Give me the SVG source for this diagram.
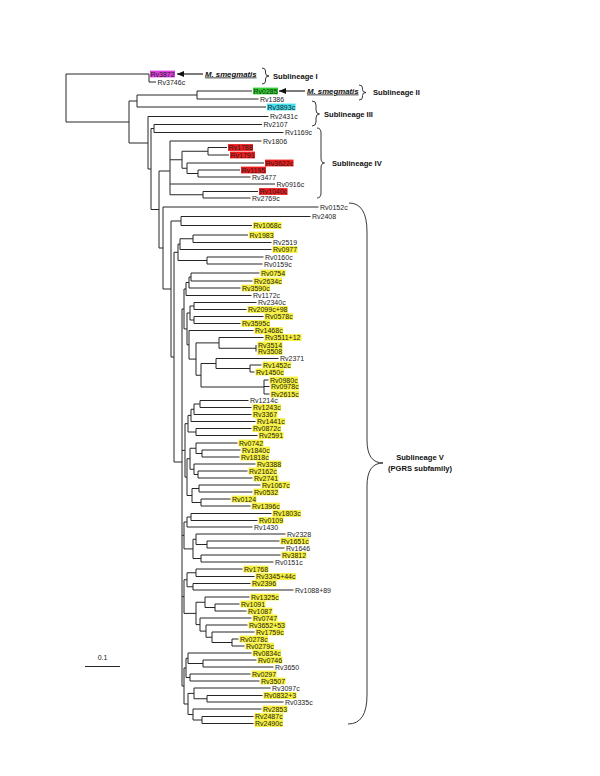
<svg xmlns="http://www.w3.org/2000/svg" width="600" height="776" viewBox="0 0 600 776">
<defs>
<style>
.l{font-family:"Liberation Sans",Arial,sans-serif;font-size:7px;fill:#222}
.s{font-family:"Liberation Sans",Arial,sans-serif;font-size:7.6px;font-weight:bold;fill:#111}
.ms{font-family:"Liberation Sans",Arial,sans-serif;font-size:7.8px;font-weight:bold;font-style:italic;fill:#111;text-decoration:underline}
.br{fill:none;stroke:#262626;stroke-width:1}
.bc{fill:none;stroke:#222;stroke-width:0.9}
.ar{fill:none;stroke:#111;stroke-width:1.1}
.hy{fill:#f6f03c}.hr{fill:#ee1c1c}.hm{fill:#dd3fdd}.hg{fill:#2ed02e}.hc{fill:#3fe0f0}
</style>
<marker id="ah" markerUnits="userSpaceOnUse" markerWidth="8" markerHeight="6" refX="7" refY="3" orient="auto"><path d="M0,0L7,3L0,6z" fill="#111"/></marker>
</defs>
<rect width="600" height="776" fill="#fff"/>
<g id="connectors">
<path class="br" d="M66,74V122M66,74H149M66,122H129M149,74V82M149,82H156
M129,101V143M129,101H137M129,143H148M137,95V107M137,95H197M137,107H266M197,91V99M197,91H252M197,99H258.5
M148,116.5V169M148,116.5H268.5M148,169H151M151,128.5V209.5M151,128.5H154M151,209.5H159M154,124.5V132.5M154,124.5H262M154,132.5H283.5
M159,171V248M159,171H170M159,248H163
M170,141V194.75M170,141H261.5M170,159.75H182M170,184H275M170,194.75H203
M182,151.25V168.25M182,151.25H208M182,168.25H187M208,147.5V155M208,147.5H227M208,155H229
M187,163V173.5M187,163H264M187,173.5H198M198,170V177M198,170H240M198,177H250.5
M203,191.5V198M203,191.5H258M203,198H250.5
M163,207V289M163,207H318.5M163,289H171M171,221V357M171,221H181M171,357H174
M181,216.5V225.5M181,216.5H310.5M181,225.5H252
M174,252.3V462M174,252.3H178M174,462H182
M178,244.1V260.5M178,244.1H180M178,260.5H207M180,238.75V249.5M180,238.75H193M180,249.5H271.5
M193,235V242.5M193,235H248M193,242.5H271.5M207,257V264M207,257H263.5M207,264H262.5
M182,309V686M182,309H184M182,450.4H185M182,535.4H184M182,596.6H184M182,686H184
M191,273V281M191,273H259.5M191,281H252.5M189,277V288M189,277H191M189,288H240.5M186,282.5V295.5M186,282.5H189M186,295.5H251.5
M194,302.5V309.5M194,302.5H256.5M194,309.5H246.5M194,316.5V323.5M194,316.5H263.5M194,323.5H240.5M190,306V320M190,306H194M190,320H194
M256,345V351.5M219,337.5V348.25M219,337.5H263.5M219,348.25H256
M250,365V372M250,365H261.5M250,372H254.5M216,358.5V368.5M216,358.5H278.5M216,368.5H250
M264,380V394M264,380H268.5M264,386.5H269.5M264,394H269.5
M201,363.5V387M201,363.5H216M201,387H264M196,342.9V375.25M196,342.9H219M196,375.25H201
M189,330.5V359.1M189,330.5H253.5M189,359.1H196M187,313V344.8M187,313H190M187,344.8H189M184,289V328.9M184,289H186M184,328.9H187
M200,400.5V407.5M200,400.5H248.5M200,407.5H251.5M194,404V414.5M194,404H200M194,414.5H251.5M191,409.25V421.5M191,409.25H194M191,421.5H255.5
M196,428.5V435.5M196,428.5H251.5M196,435.5H257.5M188,415.4V432M188,415.4H191M188,432H196
M202,450V457M202,450H240.5M202,457H239.5M196,443V453.5M196,443H237.5M196,453.5H202
M198,471V478M198,471H247.5M198,478H252.5M194,464V474.5M194,464H255.5M194,474.5H198M190,448.25V469.25M190,448.25H196M190,469.25H194
M199,485V492M199,485H260.5M199,492H252.5M201,499V506M201,499H230.5M201,506H250.5M192,488.5V502.5M192,488.5H199M192,502.5H201
M187,458.75V495.5M187,458.75H190M187,495.5H192M185,423.7V477.1M185,423.7H188M185,477.1H187
M191,513.5V520.5M191,513.5H271.5M191,520.5H257.5M187,517V527M187,517H191M187,527H252.5
M207,541V548M207,541H279.5M207,548H284.5M196,534V544.5M196,534H285.5M196,544.5H207
M201,555V562M201,555H280.5M201,562H273.5M193,539.25V558.5M193,539.25H196M193,558.5H201M184,522V548.9M184,522H187M184,548.9H193
M196,569V576.5M196,569H242.5M196,576.5H254.5M193,583.5V590M193,583.5H250.5M193,590H293.5M187,572.75V586.75M187,572.75H196M187,586.75H193
M215,604V611M215,604H239.5M215,611H246.5M205,597V607.5M205,597H249.5M205,607.5H215
M232,639V646M232,639H238.5M232,646H244.5M212,632V642.5M212,632H254.5M212,642.5H232
M206,625V637.25M206,625H247.5M206,637.25H212M200,618V631.1M200,618H251.5M200,631.1H206
M196,602.25V624.6M196,602.25H205M196,624.6H200M184,579.75V613.4M184,579.75H187M184,613.4H196
M203,660V667M203,660H256.5M203,667H273.5M188,653V663.5M188,653H251.5M188,663.5H203
M190,674V681M190,674H250.5M190,681H259.5M186,658.25V677.5M186,658.25H188M186,677.5H190
M207,695.5V702M207,695.5H262.5M207,702H283.5M194,688V698.75M194,688H270.5M194,698.75H207
M202,716.5V723.5M202,716.5H253.5M202,723.5H253.5M193,709V720M193,709H261.5M193,720H202
M188,693.4V714.5M188,693.4H194M188,714.5H193M184,667.9V704M184,667.9H186M184,704H188"/>
<path class="ar" d="M203,74H177" marker-end="url(#ah)"/>
<path class="ar" d="M305,91H279" marker-end="url(#ah)"/>
</g>
<g id="scale"><path class="br" d="M85,666.5H120"/><text class="l" x="102.5" y="659.5" text-anchor="middle">0.1</text></g>
<g id="braces">
<path class="bc" d="M262,68Q265.5,68 265.5,71V73Q265.5,76 269,76Q265.5,76 265.5,79V81Q265.5,84 262,84"/>
<path class="bc" d="M359,85Q362.5,85 362.5,88V89.5Q362.5,92.5 366,92.5Q362.5,92.5 362.5,95.5V97Q362.5,100 359,100"/>
<path class="bc" d="M312,101Q316,101 316,105V110Q316,114 319.5,114Q316,114 316,118V122Q316,126 312,126"/>
<path class="bc" d="M317,128Q321,128 321,133V158Q321,163 324.5,163Q321,163 321,168V193Q321,198 317,198"/>
<path class="bc" d="M349,203Q367,203 367,232V440Q367,463 383,463Q367,463 367,486V695Q367,724 348,724"/>
</g>
<g id="labels">
<text class="ms" x="205" y="76.5">M. smegmatis</text>
<text class="ms" x="307" y="93.5">M. smegmatis</text>
<text class="s" x="273" y="78.7">Sublineage I</text>
<text class="s" x="373" y="94.7">Sublineage II</text>
<text class="s" x="324" y="116.7">Sublineage III</text>
<text class="s" x="332" y="165.7">Sublineage IV</text>
<text class="s" x="420" y="460" text-anchor="middle">Sublineage V</text>
<text class="s" x="420" y="471" text-anchor="middle">(PGRS subfamily)</text>
</g>
<g id="leaves">
<g id="Rv3872"><rect class="hm" x="150" y="70.6" width="25" height="6.8"/><text class="l" x="150.5" y="76.5">Rv3872</text></g>
<g id="Rv3746c"><text class="l" x="157.5" y="84.5">Rv3746c</text></g>
<g id="Rv0285"><rect class="hg" x="253" y="87.6" width="25" height="6.8"/><text class="l" x="253.5" y="93.5">Rv0285</text></g>
<g id="Rv1386"><text class="l" x="260" y="101.5">Rv1386</text></g>
<g id="Rv3893c"><rect class="hc" x="267" y="103.6" width="28.5" height="6.8"/><text class="l" x="267.5" y="109.5">Rv3893c</text></g>
<g id="Rv2431c"><text class="l" x="270" y="119">Rv2431c</text></g>
<g id="Rv2107"><text class="l" x="263.5" y="127">Rv2107</text></g>
<g id="Rv1169c"><text class="l" x="285" y="135">Rv1169c</text></g>
<g id="Rv1806"><text class="l" x="263" y="143.5">Rv1806</text></g>
<g id="Rv1788"><rect class="hr" x="228" y="144.1" width="25" height="6.8"/><text class="l" x="228.5" y="150">Rv1788</text></g>
<g id="Rv1791"><rect class="hr" x="230" y="151.6" width="25" height="6.8"/><text class="l" x="230.5" y="157.5">Rv1791</text></g>
<g id="Rv3622c"><rect class="hr" x="265" y="159.6" width="28.5" height="6.8"/><text class="l" x="265.5" y="165.5">Rv3622c</text></g>
<g id="Rv1195"><rect class="hr" x="241" y="166.6" width="25" height="6.8"/><text class="l" x="241.5" y="172.5">Rv1195</text></g>
<g id="Rv3477"><text class="l" x="252" y="179.5">Rv3477</text></g>
<g id="Rv0916c"><text class="l" x="276.5" y="186.5">Rv0916c</text></g>
<g id="Rv1040c"><rect class="hr" x="259" y="188.1" width="28.5" height="6.8"/><text class="l" x="259.5" y="194">Rv1040c</text></g>
<g id="Rv2769c"><text class="l" x="252" y="200.5">Rv2769c</text></g>
<g id="Rv0152c"><text class="l" x="320" y="209.5">Rv0152c</text></g>
<g id="Rv2408"><text class="l" x="312" y="219">Rv2408</text></g>
<g id="Rv1068c"><rect class="hy" x="253" y="222.1" width="28.5" height="6.8"/><text class="l" x="253.5" y="228">Rv1068c</text></g>
<g id="Rv1983"><rect class="hy" x="249" y="231.6" width="25" height="6.8"/><text class="l" x="249.5" y="237.5">Rv1983</text></g>
<g id="Rv2519"><text class="l" x="273" y="245">Rv2519</text></g>
<g id="Rv0977"><rect class="hy" x="272.5" y="246.1" width="25" height="6.8"/><text class="l" x="273" y="252">Rv0977</text></g>
<g id="Rv0160c"><text class="l" x="265" y="259.5">Rv0160c</text></g>
<g id="Rv0159c"><text class="l" x="264" y="266.5">Rv0159c</text></g>
<g id="Rv0754"><rect class="hy" x="260.5" y="269.6" width="25" height="6.8"/><text class="l" x="261" y="275.5">Rv0754</text></g>
<g id="Rv2634c"><rect class="hy" x="253.5" y="277.6" width="28.5" height="6.8"/><text class="l" x="254" y="283.5">Rv2634c</text></g>
<g id="Rv3590c"><rect class="hy" x="241.5" y="284.6" width="28.5" height="6.8"/><text class="l" x="242" y="290.5">Rv3590c</text></g>
<g id="Rv1172c"><text class="l" x="253" y="298">Rv1172c</text></g>
<g id="Rv2340c"><text class="l" x="258" y="305">Rv2340c</text></g>
<g id="Rv2099c98"><rect class="hy" x="247.5" y="306.1" width="40.5" height="6.8"/><text class="l" x="248" y="312">Rv2099c+98</text></g>
<g id="Rv0578c"><rect class="hy" x="264.5" y="313.1" width="28.5" height="6.8"/><text class="l" x="265" y="319">Rv0578c</text></g>
<g id="Rv3595c"><rect class="hy" x="241.5" y="320.1" width="28.5" height="6.8"/><text class="l" x="242" y="326">Rv3595c</text></g>
<g id="Rv1468c"><rect class="hy" x="254.5" y="327.1" width="28.5" height="6.8"/><text class="l" x="255" y="333">Rv1468c</text></g>
<g id="Rv3511_12"><rect class="hy" x="264.5" y="334.1" width="37" height="6.8"/><text class="l" x="265" y="340">Rv3511+12</text></g>
<g id="Rv3514"><rect class="hy" x="257.5" y="341.6" width="25" height="6.8"/><text class="l" x="258" y="347.5">Rv3514</text></g>
<g id="Rv3508"><rect class="hy" x="257.5" y="348.1" width="25" height="6.8"/><text class="l" x="258" y="354">Rv3508</text></g>
<g id="Rv2371"><text class="l" x="280" y="361">Rv2371</text></g>
<g id="Rv1452c"><rect class="hy" x="262.5" y="361.6" width="28.5" height="6.8"/><text class="l" x="263" y="367.5">Rv1452c</text></g>
<g id="Rv1450c"><rect class="hy" x="255.5" y="368.6" width="28.5" height="6.8"/><text class="l" x="256" y="374.5">Rv1450c</text></g>
<g id="Rv0980c"><rect class="hy" x="269.5" y="376.6" width="28.5" height="6.8"/><text class="l" x="270" y="382.5">Rv0980c</text></g>
<g id="Rv0978c"><rect class="hy" x="270.5" y="383.1" width="28.5" height="6.8"/><text class="l" x="271" y="389">Rv0978c</text></g>
<g id="Rv2615c"><rect class="hy" x="270.5" y="390.6" width="28.5" height="6.8"/><text class="l" x="271" y="396.5">Rv2615c</text></g>
<g id="Rv1214c"><text class="l" x="250" y="403">Rv1214c</text></g>
<g id="Rv1243c"><rect class="hy" x="252.5" y="404.1" width="28.5" height="6.8"/><text class="l" x="253" y="410">Rv1243c</text></g>
<g id="Rv3367"><rect class="hy" x="252.5" y="411.1" width="25" height="6.8"/><text class="l" x="253" y="417">Rv3367</text></g>
<g id="Rv1441c"><rect class="hy" x="256.5" y="418.1" width="28.5" height="6.8"/><text class="l" x="257" y="424">Rv1441c</text></g>
<g id="Rv0872c"><rect class="hy" x="252.5" y="425.1" width="28.5" height="6.8"/><text class="l" x="253" y="431">Rv0872c</text></g>
<g id="Rv2591"><rect class="hy" x="258.5" y="432.1" width="25" height="6.8"/><text class="l" x="259" y="438">Rv2591</text></g>
<g id="Rv0742"><rect class="hy" x="238.5" y="439.6" width="25" height="6.8"/><text class="l" x="239" y="445.5">Rv0742</text></g>
<g id="Rv1840c"><rect class="hy" x="241.5" y="446.6" width="28.5" height="6.8"/><text class="l" x="242" y="452.5">Rv1840c</text></g>
<g id="Rv1818c"><rect class="hy" x="240.5" y="453.6" width="28.5" height="6.8"/><text class="l" x="241" y="459.5">Rv1818c</text></g>
<g id="Rv3388"><rect class="hy" x="256.5" y="460.6" width="25" height="6.8"/><text class="l" x="257" y="466.5">Rv3388</text></g>
<g id="Rv2162c"><rect class="hy" x="248.5" y="467.6" width="28.5" height="6.8"/><text class="l" x="249" y="473.5">Rv2162c</text></g>
<g id="Rv2741"><rect class="hy" x="253.5" y="474.6" width="25" height="6.8"/><text class="l" x="254" y="480.5">Rv2741</text></g>
<g id="Rv1067c"><rect class="hy" x="261.5" y="481.6" width="28.5" height="6.8"/><text class="l" x="262" y="487.5">Rv1067c</text></g>
<g id="Rv0532"><rect class="hy" x="253.5" y="488.6" width="25" height="6.8"/><text class="l" x="254" y="494.5">Rv0532</text></g>
<g id="Rv0124"><rect class="hy" x="231.5" y="495.6" width="25" height="6.8"/><text class="l" x="232" y="501.5">Rv0124</text></g>
<g id="Rv1396c"><rect class="hy" x="251.5" y="502.6" width="28.5" height="6.8"/><text class="l" x="252" y="508.5">Rv1396c</text></g>
<g id="Rv1803c"><rect class="hy" x="272.5" y="510.1" width="28.5" height="6.8"/><text class="l" x="273" y="516">Rv1803c</text></g>
<g id="Rv0109"><rect class="hy" x="258.5" y="517.1" width="25" height="6.8"/><text class="l" x="259" y="523">Rv0109</text></g>
<g id="Rv1430"><text class="l" x="254" y="529.5">Rv1430</text></g>
<g id="Rv2328"><text class="l" x="287" y="536.5">Rv2328</text></g>
<g id="Rv1651c"><rect class="hy" x="280.5" y="537.6" width="28.5" height="6.8"/><text class="l" x="281" y="543.5">Rv1651c</text></g>
<g id="Rv1646"><text class="l" x="286" y="550.5">Rv1646</text></g>
<g id="Rv3812"><rect class="hy" x="281.5" y="551.6" width="25" height="6.8"/><text class="l" x="282" y="557.5">Rv3812</text></g>
<g id="Rv0151c"><text class="l" x="275" y="564.5">Rv0151c</text></g>
<g id="Rv1768"><rect class="hy" x="243.5" y="565.6" width="25" height="6.8"/><text class="l" x="244" y="571.5">Rv1768</text></g>
<g id="Rv3345_44c"><rect class="hy" x="255.5" y="573.1" width="40.5" height="6.8"/><text class="l" x="256" y="579">Rv3345+44c</text></g>
<g id="Rv2396"><rect class="hy" x="251.5" y="580.1" width="25" height="6.8"/><text class="l" x="252" y="586">Rv2396</text></g>
<g id="Rv1088_89"><text class="l" x="295" y="592.5">Rv1088+89</text></g>
<g id="Rv1325c"><rect class="hy" x="250.5" y="593.6" width="28.5" height="6.8"/><text class="l" x="251" y="599.5">Rv1325c</text></g>
<g id="Rv1091"><rect class="hy" x="240.5" y="600.6" width="25" height="6.8"/><text class="l" x="241" y="606.5">Rv1091</text></g>
<g id="Rv1087"><rect class="hy" x="247.5" y="607.6" width="25" height="6.8"/><text class="l" x="248" y="613.5">Rv1087</text></g>
<g id="Rv0747"><rect class="hy" x="252.5" y="614.6" width="25" height="6.8"/><text class="l" x="253" y="620.5">Rv0747</text></g>
<g id="Rv3652_53"><rect class="hy" x="248.5" y="621.6" width="37" height="6.8"/><text class="l" x="249" y="627.5">Rv3652+53</text></g>
<g id="Rv1759c"><rect class="hy" x="255.5" y="628.6" width="28.5" height="6.8"/><text class="l" x="256" y="634.5">Rv1759c</text></g>
<g id="Rv0278c"><rect class="hy" x="239.5" y="635.6" width="28.5" height="6.8"/><text class="l" x="240" y="641.5">Rv0278c</text></g>
<g id="Rv0279c"><rect class="hy" x="245.5" y="642.6" width="28.5" height="6.8"/><text class="l" x="246" y="648.5">Rv0279c</text></g>
<g id="Rv0834c"><rect class="hy" x="252.5" y="649.6" width="28.5" height="6.8"/><text class="l" x="253" y="655.5">Rv0834c</text></g>
<g id="Rv0746"><rect class="hy" x="257.5" y="656.6" width="25" height="6.8"/><text class="l" x="258" y="662.5">Rv0746</text></g>
<g id="Rv3650"><text class="l" x="275" y="669.5">Rv3650</text></g>
<g id="Rv0297"><rect class="hy" x="251.5" y="670.6" width="25" height="6.8"/><text class="l" x="252" y="676.5">Rv0297</text></g>
<g id="Rv3507"><rect class="hy" x="260.5" y="677.6" width="25" height="6.8"/><text class="l" x="261" y="683.5">Rv3507</text></g>
<g id="Rv3097c"><text class="l" x="272" y="690.5">Rv3097c</text></g>
<g id="Rv0832_3"><rect class="hy" x="263.5" y="692.1" width="33" height="6.8"/><text class="l" x="264" y="698">Rv0832+3</text></g>
<g id="Rv0335c"><text class="l" x="285" y="704.5">Rv0335c</text></g>
<g id="Rv2853"><rect class="hy" x="262.5" y="705.6" width="25" height="6.8"/><text class="l" x="263" y="711.5">Rv2853</text></g>
<g id="Rv2487c"><rect class="hy" x="254.5" y="713.1" width="28.5" height="6.8"/><text class="l" x="255" y="719">Rv2487c</text></g>
<g id="Rv2490c"><rect class="hy" x="254.5" y="720.1" width="28.5" height="6.8"/><text class="l" x="255" y="726">Rv2490c</text></g>
</g>
</svg>
